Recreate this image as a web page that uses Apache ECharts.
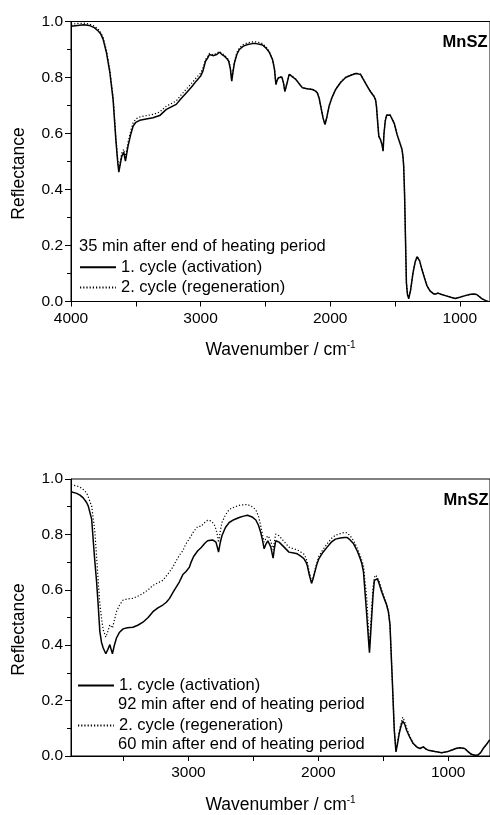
<!DOCTYPE html>
<html><head><meta charset="utf-8">
<script src="https://cdn.jsdelivr.net/npm/echarts@6/dist/echarts.min.js"></script>
<style>html,body{margin:0;padding:0;background:#fff}#c{width:490px;height:815px}</style>
</head><body><div id="c"></div>
<script>
// ---------- data ----------
const seriesNames = ['1. cycle (activation)', '2. cycle (regeneration)'];

const topWavenumber = [4000,3950,3900,3860,3820,3790,3770,3752,3726,3700,3675,3654,3640,3631,3618,3608,3593,3580,3560,3540,3521,3500,3470,3420,3367,3316,3264,3188,3150,3111,3070,3034,3000,2983,2962,2945,2932,2921,2905,2893,2875,2855,2835,2816,2795,2783,2770,2760,2750,2739,2720,2701,2670,2637,2600,2573,2545,2522,2495,2470,2445,2430,2419,2410,2399,2385,2373,2360,2350,2342,2330,2317,2300,2265,2240,2214,2180,2137,2115,2099,2085,2073,2055,2040,2025,2009,1985,1958,1920,1881,1840,1804,1785,1766,1740,1715,1690,1663,1650,1643,1632,1625,1612,1600,1592,1585,1575,1565,1553,1538,1523,1505,1484,1465,1446,1438,1433,1426,1420,1412,1404,1394,1380,1361,1345,1330,1310,1292,1270,1254,1230,1202,1185,1169,1140,1112,1070,1035,1000,958,925,894,870,856,830,800,780];
const topCycle1 = [0.983,0.986,0.988,0.986,0.978,0.966,0.955,0.936,0.888,0.817,0.720,0.578,0.500,0.462,0.495,0.519,0.533,0.501,0.555,0.595,0.626,0.640,0.647,0.652,0.656,0.664,0.686,0.704,0.725,0.745,0.766,0.787,0.805,0.822,0.858,0.870,0.882,0.888,0.878,0.872,0.882,0.890,0.882,0.876,0.866,0.858,0.830,0.787,0.820,0.852,0.883,0.900,0.912,0.918,0.921,0.921,0.919,0.916,0.905,0.890,0.864,0.830,0.775,0.790,0.799,0.804,0.802,0.780,0.750,0.745,0.785,0.811,0.806,0.793,0.778,0.763,0.760,0.757,0.752,0.745,0.725,0.697,0.655,0.632,0.660,0.697,0.730,0.757,0.782,0.800,0.808,0.814,0.813,0.811,0.790,0.769,0.750,0.733,0.720,0.697,0.630,0.590,0.578,0.560,0.537,0.600,0.645,0.665,0.670,0.666,0.659,0.635,0.596,0.570,0.543,0.515,0.483,0.380,0.245,0.067,0.025,0.010,0.040,0.102,0.140,0.160,0.145,0.114,0.080,0.057,0.038,0.027,0.027,0.030,0.025,0.021,0.015,0.011,0.015,0.021,0.025,0.027,0.025,0.019,0.010,0.003,0.000];
const topCycle2 = [0.990,0.993,0.994,0.991,0.984,0.972,0.961,0.943,0.896,0.826,0.730,0.588,0.510,0.470,0.506,0.530,0.544,0.514,0.568,0.608,0.638,0.652,0.659,0.664,0.668,0.677,0.698,0.716,0.738,0.758,0.779,0.799,0.816,0.832,0.864,0.875,0.886,0.891,0.881,0.876,0.886,0.893,0.886,0.880,0.870,0.862,0.834,0.790,0.824,0.857,0.889,0.906,0.918,0.924,0.927,0.927,0.925,0.921,0.909,0.893,0.866,0.831,0.776,0.791,0.800,0.805,0.803,0.781,0.751,0.746,0.786,0.812,0.807,0.794,0.779,0.764,0.761,0.758,0.753,0.746,0.726,0.698,0.656,0.633,0.661,0.698,0.731,0.758,0.783,0.801,0.809,0.815,0.814,0.812,0.791,0.770,0.751,0.734,0.721,0.698,0.631,0.591,0.579,0.561,0.538,0.601,0.646,0.666,0.671,0.667,0.660,0.636,0.597,0.571,0.544,0.516,0.484,0.381,0.246,0.068,0.026,0.011,0.041,0.103,0.141,0.161,0.146,0.115,0.081,0.057,0.038,0.027,0.027,0.030,0.025,0.021,0.015,0.011,0.015,0.021,0.025,0.027,0.025,0.019,0.010,0.003,0.000];

const botWavenumber = [3904,3860,3835,3810,3784,3771,3745,3728,3720,3707,3694,3682,3669,3656,3636,3620,3605,3595,3585,3570,3554,3530,3503,3470,3427,3390,3350,3310,3273,3235,3197,3170,3145,3120,3100,3069,3043,3020,2992,2979,2960,2928,2903,2890,2870,2852,2830,2814,2801,2788,2778,2768,2755,2742,2715,2686,2650,2609,2575,2545,2510,2481,2460,2443,2430,2417,2403,2389,2375,2366,2348,2338,2328,2302,2265,2226,2190,2162,2130,2110,2095,2085,2070,2052,2040,2027,2012,1996,1965,1932,1900,1868,1830,1800,1779,1755,1728,1700,1677,1665,1652,1640,1627,1615,1606,1597,1588,1578,1568,1557,1545,1530,1512,1490,1474,1460,1448,1438,1430,1415,1402,1390,1377,1362,1350,1335,1320,1295,1269,1240,1217,1192,1170,1154,1100,1052,1010,975,940,911,873,845,821,795,770,750,732,700,680];
const botCycle1 = [0.954,0.948,0.942,0.932,0.915,0.902,0.855,0.748,0.700,0.629,0.540,0.450,0.410,0.390,0.369,0.385,0.402,0.385,0.369,0.400,0.426,0.447,0.459,0.463,0.465,0.472,0.483,0.500,0.521,0.535,0.545,0.555,0.569,0.590,0.605,0.629,0.655,0.665,0.682,0.700,0.720,0.741,0.752,0.759,0.770,0.777,0.779,0.780,0.779,0.772,0.755,0.736,0.770,0.795,0.825,0.843,0.853,0.861,0.866,0.869,0.863,0.852,0.832,0.807,0.780,0.748,0.765,0.777,0.770,0.755,0.714,0.750,0.777,0.772,0.755,0.736,0.733,0.730,0.720,0.712,0.700,0.688,0.655,0.623,0.640,0.664,0.690,0.712,0.735,0.754,0.772,0.783,0.787,0.789,0.789,0.780,0.766,0.740,0.712,0.695,0.664,0.590,0.509,0.430,0.373,0.440,0.509,0.585,0.634,0.640,0.640,0.620,0.593,0.565,0.545,0.520,0.474,0.360,0.271,0.093,0.015,0.045,0.081,0.110,0.126,0.115,0.093,0.067,0.045,0.032,0.027,0.033,0.025,0.021,0.016,0.012,0.015,0.021,0.027,0.030,0.027,0.015,0.006,0.003,0.004,0.012,0.026,0.045,0.058];
const botCycle2 = [0.980,0.975,0.971,0.962,0.950,0.935,0.902,0.840,0.807,0.720,0.629,0.550,0.498,0.455,0.429,0.450,0.474,0.468,0.462,0.490,0.521,0.545,0.563,0.567,0.569,0.577,0.587,0.600,0.616,0.625,0.634,0.650,0.665,0.682,0.700,0.725,0.741,0.765,0.785,0.795,0.810,0.829,0.829,0.835,0.845,0.851,0.849,0.843,0.835,0.819,0.800,0.771,0.810,0.843,0.870,0.890,0.898,0.905,0.907,0.908,0.900,0.889,0.865,0.831,0.800,0.772,0.785,0.795,0.787,0.775,0.745,0.775,0.801,0.795,0.775,0.754,0.748,0.744,0.735,0.728,0.715,0.700,0.665,0.631,0.645,0.670,0.695,0.720,0.745,0.766,0.785,0.797,0.803,0.807,0.806,0.795,0.777,0.750,0.724,0.706,0.688,0.630,0.569,0.470,0.390,0.470,0.540,0.610,0.645,0.653,0.655,0.630,0.600,0.570,0.550,0.520,0.474,0.360,0.271,0.100,0.018,0.050,0.090,0.120,0.140,0.125,0.100,0.070,0.045,0.032,0.027,0.033,0.025,0.021,0.016,0.012,0.015,0.021,0.027,0.030,0.027,0.015,0.006,0.003,0.004,0.012,0.026,0.045,0.058];

const topXTicks = [1000,1500,2000,2500,3000,3500,4000];
const topXLabels = [1000,2000,3000,4000];
const botXTicks = [1000,1500,2000,2500,3000,3500];
const botXLabels = [1000,2000,3000];

const sampleLabel = 'MnSZ';
const topLegendHeader = '35 min after end of heating period';
const botLegendNotes = ['92 min after end of heating period','60 min after end of heating period'];
const xTitle = '{a|Wavenumber / cm}{b|-1}';
const yTitle = 'Reflectance';

// ---------- chart ----------
const font = "'Liberation Sans', Arial, Helvetica, sans-serif";
const zip = (xs, ys) => xs.map((x, i) => [x, ys[i]]);
const black = '#000';

function xAxisFor(gridIndex, min, max, ticks, labels) {
  return {
    gridIndex, type: 'value', min, max, inverse: true, position: 'bottom',
    axisLine: {show: true, onZero: false, lineStyle: {color: black, width: 1}},
    axisTick: {show: true, inside: false, length: 5, customValues: ticks, lineStyle: {color: black}},
    axisLabel: {show: true, customValues: labels, formatter: v => String(v), margin: 9, color: black, fontSize: 15.5, fontFamily: font},
    splitLine: {show: false},
    name: xTitle, nameLocation: 'middle', nameGap: 39,
    nameTextStyle: {color: black, fontFamily: font,
      rich: {a: {fontSize: 17.5, lineHeight: 20, fontFamily: font, color: black},
             b: {fontSize: 10, lineHeight: 13, verticalAlign: 'top', fontFamily: font, color: black}}}
  };
}
function yAxisFor(gridIndex) {
  return {
    gridIndex, type: 'value', min: 0, max: 1, interval: 0.2,
    axisLine: {show: true, onZero: false, lineStyle: {color: black, width: 1}},
    axisTick: {show: true, inside: false, length: 6, lineStyle: {color: black}},
    minorTick: {show: true, splitNumber: 2, length: 4, lineStyle: {color: black}},
    axisLabel: {formatter: v => v.toFixed(1), margin: 8, color: black, fontSize: 15.5, fontFamily: font},
    splitLine: {show: false}, minorSplitLine: {show: false},
    name: yTitle, nameLocation: 'middle', nameGap: 43,
    nameTextStyle: {fontSize: 17.5, color: black, fontFamily: font, padding: [0, 24, 0, 0]}
  };
}
function lineSeries(name, xi, yi, data, dotted) {
  return {
    type: 'line', name, xAxisIndex: xi, yAxisIndex: yi, data,
    symbol: 'none', showSymbol: false, silent: true, animation: false,
    itemStyle: {color: black},
    lineStyle: dotted ? {color: black, width: 1.2, type: [1.2, 2]} : {color: black, width: 1.5, type: 'solid'},
    z: dotted ? 2 : 3
  };
}
function txt(x, y, text, opts) {
  return Object.assign({type: 'text', x, y, silent: true,
    style: Object.assign({text, fill: black, fontSize: 16.5, fontFamily: font, align: 'left', verticalAlign: 'middle'}, opts || {})});
}
const legendCommon = {
  orient: 'vertical', itemWidth: 36, itemHeight: 16, padding: 0, selectedMode: false,
  data: seriesNames, itemStyle: {opacity: 0, borderWidth: 0},
  textStyle: {fontSize: 16.5, color: black, fontFamily: font}
};

const chart = echarts.init(document.getElementById('c'), null, {renderer: 'canvas'});
chart.setOption({
  animation: false,
  backgroundColor: '#fff',
  grid: [
    {left: 71, right: -2, top: 21.5, height: 280, show: true, borderColor: black, borderWidth: 1, backgroundColor: 'transparent'},
    {left: 71, right: -2, top: 479, height: 280, show: true, borderColor: black, borderWidth: 1, backgroundColor: 'transparent'}
  ],
  xAxis: [xAxisFor(0, 767, 4000, topXTicks, topXLabels), xAxisFor(1, 678, 3904, botXTicks, botXLabels)],
  yAxis: [yAxisFor(0), yAxisFor(1)],
  legend: [
    Object.assign({left: 79, top: 258.7, itemGap: 3.3}, legendCommon),
    Object.assign({left: 77, top: 677, itemGap: 23}, legendCommon)
  ],
  graphic: [
    txt(487.5, 42.7, sampleLabel, {align: 'right', fontWeight: 'bold', fontSize: 16.5}),
    txt(488.5, 500.7, sampleLabel, {align: 'right', fontWeight: 'bold', fontSize: 16.5}),
    txt(79, 246.7, topLegendHeader),
    txt(118, 704.3, botLegendNotes[0]),
    txt(118, 744, botLegendNotes[1])
  ],
  series: [
    lineSeries(seriesNames[1], 0, 0, zip(topWavenumber, topCycle2), true),
    lineSeries(seriesNames[0], 0, 0, zip(topWavenumber, topCycle1), false),
    lineSeries(seriesNames[1], 1, 1, zip(botWavenumber, botCycle2), true),
    lineSeries(seriesNames[0], 1, 1, zip(botWavenumber, botCycle1), false)
  ]
});
</script></body></html>
